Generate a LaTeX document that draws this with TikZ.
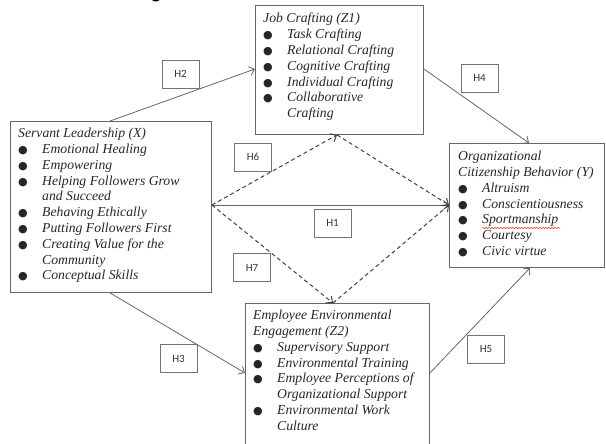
\documentclass[tikz,border=0pt]{standalone}
\usepackage{fontspec}
\setmainfont{Liberation Serif}
\newfontfamily\hypfont{Carlito}
\newfontfamily\symfont{DejaVu Sans}
\usetikzlibrary{arrows.meta,positioning,calc,decorations.pathmorphing}

% bullet and hanging indent for the list lines
\newcommand{\blt}{\makebox[24pt][l]{\upshape\symfont\fontsize{11}{11}\selectfont ●}}
\newcommand{\cont}{\hspace*{24pt}}

\begin{document}
\begin{tikzpicture}[
  x=1pt,
  y=-1pt,
  box/.style={draw=black!60, line width=0.9pt, inner sep=0pt, anchor=north west},
  listtext/.style={inner sep=0pt, anchor=north west, align=left, text=black!85,
    font=\fontsize{13.7}{15.8}\selectfont\itshape},
  hyp/.style={draw=black!55, line width=0.8pt, minimum width=37pt, minimum height=28pt,
    inner sep=0pt, font=\hypfont\fontsize{11}{11}\selectfont, text=black!80},
  link/.style={draw=black!60, line width=0.8pt, -{Straight Barb[length=5pt,width=9pt]}},
  medlink/.style={link, draw=black!75, line width=1pt, dash pattern=on 4pt off 3pt}
]
\useasboundingbox (0,0) rectangle (606,444);

% cut-off heading above the figure
\node[inner sep=0pt, anchor=base, font=\hypfont\bfseries\fontsize{20}{20}\selectfont] (head) at (156,-1) {g};

% construct boxes
\node[box, minimum width=168pt, minimum height=129pt] (jc) at (255,5) {};
\node[box, minimum width=201pt, minimum height=171pt] (sl) at (10,121) {};
\node[box, minimum width=155pt, minimum height=124pt] (ocb) at (449,143) {};
\node[box, minimum width=184pt, minimum height=150pt] (eee) at (245,303) {};

\node[listtext] (jctext) at ([shift={(8pt,-8pt)}]jc.north west) {%
Job Crafting (Z1)\\
\blt Task Crafting\\
\blt Relational Crafting\\
\blt Cognitive Crafting\\
\blt Individual Crafting\\
\blt Collaborative\\
\cont Crafting};

\node[listtext] (sltext) at ([shift={(8pt,-7pt)}]sl.north west) {%
Servant Leadership (X)\\
\blt Emotional Healing\\
\blt Empowering\\
\blt Helping Followers Grow\\
\cont and Succeed\\
\blt Behaving Ethically\\
\blt Putting Followers First\\
\blt Creating Value for the\\
\cont Community\\
\blt Conceptual Skills};

\node[listtext] (ocbtext) at ([shift={(9pt,-8pt)}]ocb.north west) {%
Organizational\\
Citizenship Behavior (Y)\\
\blt Altruism\\
\blt Conscientiousness\\
\blt Sportmanship\\
\blt Courtesy\\
\blt Civic virtue};
\draw[red!85, line width=0.5pt, decorate, decoration={snake, amplitude=0.6pt, segment length=3pt}]
  ([shift={(33pt,-85pt)}]ocb.north west) -- ++(78,0);

\node[listtext] (eeetext) at ([shift={(8pt,-7pt)}]eee.north west) {%
Employee Environmental\\
Engagement (Z2)\\
\blt Supervisory Support\\
\blt Environmental Training\\
\blt Employee Perceptions of\\
\cont Organizational Support\\
\blt Environmental Work\\
\cont Culture};

% direct paths
\draw[link] ([xshift=100pt]sl.north west) -- ([yshift=-64pt]jc.north west);
\draw[link] ([yshift=-64pt]jc.north east) -- ([xshift=80pt]ocb.north west);
\draw[link] ([yshift=-84pt]sl.north east) -- ([yshift=-62pt]ocb.north west);
\draw[link] ([xshift=100pt]sl.south west) -- ([yshift=-70pt]eee.north west);
\draw[link] ([yshift=-70pt]eee.north east) -- ([xshift=81pt]ocb.south west);

% mediated paths
\draw[medlink] ([yshift=-84pt]sl.north east) -- ([xshift=82pt]jc.south west);
\draw[medlink] ([xshift=82pt]jc.south west) -- ([yshift=-62pt]ocb.north west);
\draw[medlink] ([yshift=-84pt]sl.north east) -- ([xshift=88pt]eee.north west);
\draw[medlink] ([xshift=88pt]eee.north west) -- ([yshift=-62pt]ocb.north west);

% hypothesis labels
\node[hyp] (h2) at (180.5,74) {H2};
\node[hyp] (h4) at (479.5,78) {H4};
\node[hyp] (h6) at (253,157) {H6};
\node[hyp] (h1) at (332.5,223) {H1};
\node[hyp] (h7) at (252,267.5) {H7};
\node[hyp] (h3) at (178.5,358.5) {H3};
\node[hyp] (h5) at (486,349.5) {H5};
\end{tikzpicture}
\end{document}
